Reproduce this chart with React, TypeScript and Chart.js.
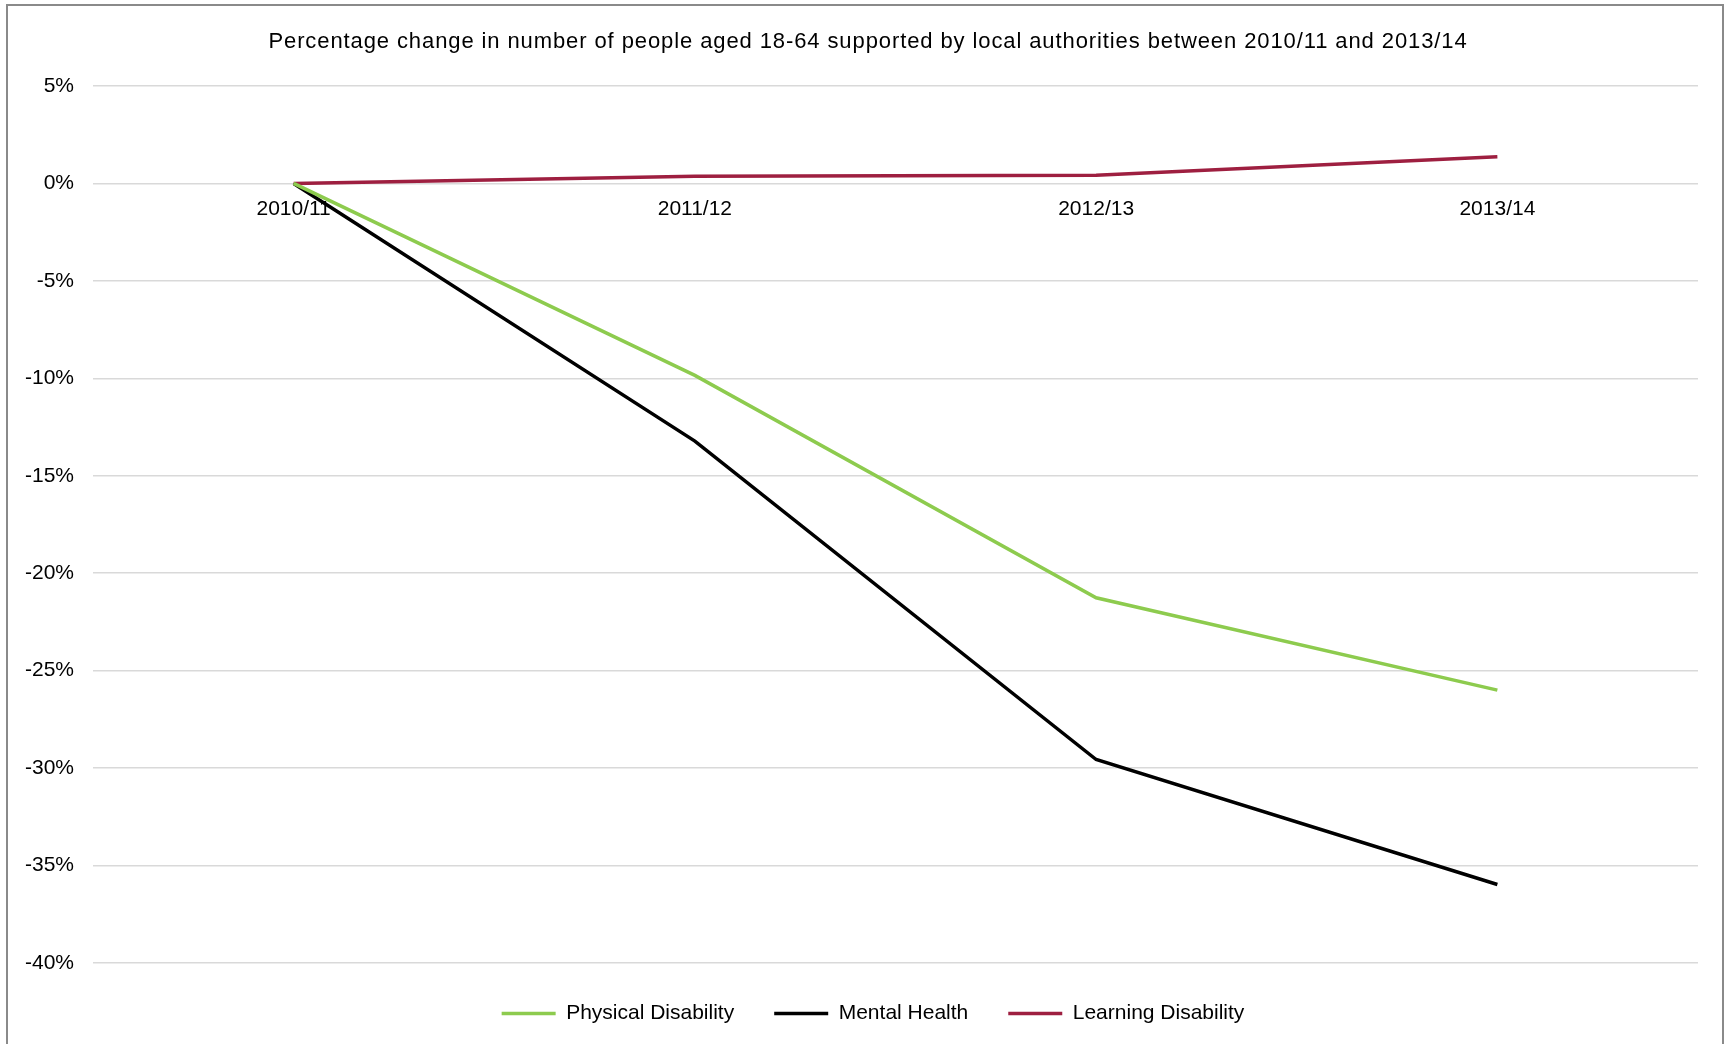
import React, { useEffect, useRef } from "react";
import { Chart, registerables } from "chart.js";

Chart.register(...registerables);

const categories = ["2010/11", "2011/12", "2012/13", "2013/14"];
const physicalDisability = [0, -9.85, -21.26, -26.0];
const mentalHealth = [0, -13.22, -29.56, -35.97];
const learningDisability = [0, 0.37, 0.42, 1.37];
const titleText =
  "Percentage change in number of people aged 18-64 supported by local authorities between 2010/11 and 2013/14";

const FONT = "'Liberation Sans', Arial, sans-serif";

const titlePlugin = {
  id: "spacedTitle",
  afterDraw(chart: any) {
    const ctx = chart.ctx as CanvasRenderingContext2D;
    ctx.save();
    ctx.font = `22px ${FONT}`;
    (ctx as any).letterSpacing = "0.9px";
    ctx.fillStyle = "#000";
    ctx.textAlign = "center";
    ctx.textBaseline = "middle";
    ctx.fillText(titleText, 868, 42);
    ctx.restore();
  },
};

export default function App() {
  const ref = useRef<HTMLCanvasElement | null>(null);

  useEffect(() => {
    if (!ref.current) return;
    const chart = new Chart(ref.current, {
      type: "line",
      data: {
        labels: categories,
        datasets: [
          {
            label: "Physical Disability",
            data: physicalDisability,
            borderColor: "#8DCB4E",
            backgroundColor: "#8DCB4E",
            borderWidth: 3.5,
            pointRadius: 0,
            tension: 0,
          },
          {
            label: "Mental Health",
            data: mentalHealth,
            borderColor: "#000000",
            backgroundColor: "#000000",
            borderWidth: 3.5,
            pointRadius: 0,
            tension: 0,
          },
          {
            label: "Learning Disability",
            data: learningDisability,
            borderColor: "#9E1F40",
            backgroundColor: "#9E1F40",
            borderWidth: 3.5,
            pointRadius: 0,
            tension: 0,
          },
        ],
      },
      plugins: [titlePlugin],
      options: {
        responsive: false,
        animation: false,
        devicePixelRatio: 1,
        layout: { padding: { left: 14, right: 0, top: 86, bottom: 10 } },
        plugins: {
          title: { display: false },
          legend: {
            position: "bottom",
            labels: {
              color: "#000",
              font: { family: FONT, size: 21 },
              usePointStyle: true,
              pointStyle: "line",
              pointStyleWidth: 54,
              padding: 40,
            },
          },
          tooltip: { enabled: false },
        },
        scales: {
          x: {
            type: "category",
            offset: true,
            position: { y: 0 } as any,
            grid: { display: false, drawTicks: false },
            border: { display: false },
            ticks: {
              color: "#000",
              font: { family: FONT, size: 21 },
              padding: 13,
              maxRotation: 0,
            },
          },
          y: {
            position: "left",
            min: -40,
            max: 5,
            afterFit: (scale: any) => {
              scale.width = 79;
            },
            grid: { color: "#d9d9d9", lineWidth: 1.5, drawTicks: false },
            border: { display: false },
            ticks: {
              stepSize: 5,
              color: "#000",
              font: { family: FONT, size: 21 },
              padding: 19,
              callback: (v: any) => `${v}%`,
            },
          },
          yRight: {
            type: "linear",
            position: "right",
            min: -40,
            max: 5,
            afterFit: (scale: any) => {
              scale.width = 34;
            },
            grid: { display: false, drawTicks: false },
            border: { display: false },
            ticks: { display: false },
          },
        },
      },
    });
    return () => chart.destroy();
  }, []);

  return (
    <div
      style={{
        position: "fixed",
        left: 0,
        top: 0,
        width: 1732,
        height: 1044,
        overflow: "hidden",
        background: "#fff",
      }}
    >
      <canvas ref={ref} width={1732} height={1044} style={{ display: "block" }} />
      <div
        style={{
          position: "absolute",
          left: 6,
          top: 4,
          width: 1718,
          height: 1100,
          border: "2px solid #8a8a8a",
          boxSizing: "border-box",
          pointerEvents: "none",
        }}
      />
    </div>
  );
}
